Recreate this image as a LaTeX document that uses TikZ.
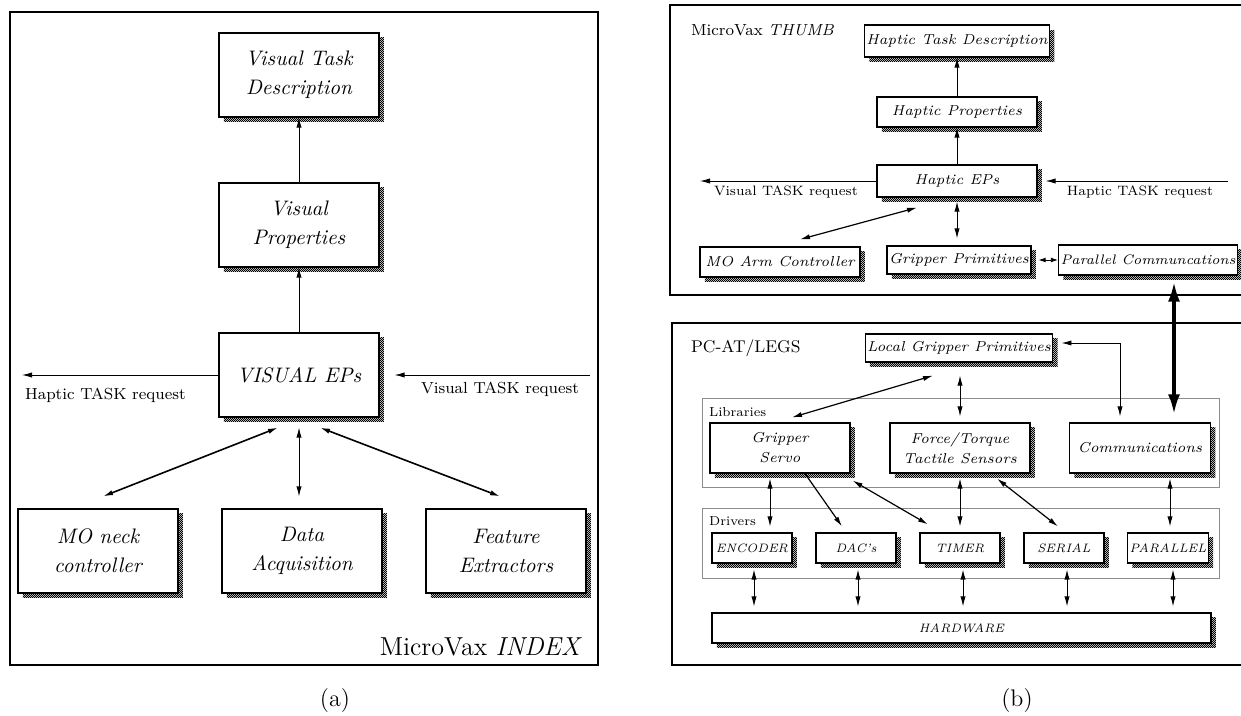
\documentclass[tikz,border=0pt]{standalone}
\usetikzlibrary{arrows.meta,calc,shadows,patterns}

\pgfdeclarepatternformonly{halftone}{\pgfpointorigin}{\pgfqpoint{1.2pt}{1.2pt}}{\pgfqpoint{1.2pt}{1.2pt}}{%
  \pgfpathrectangle{\pgfpointorigin}{\pgfqpoint{0.7pt}{0.7pt}}%
  \pgfpathrectangle{\pgfqpoint{0.6pt}{0.6pt}}{\pgfqpoint{0.6pt}{0.6pt}}%
  \pgfusepath{fill}}

\begin{document}
\begin{tikzpicture}[x=0.5pt, y=-0.5pt, >={Latex[length=5pt,width=2.6pt]},
  lbox/.style={draw, fill=white, line width=0.6pt, align=center, inner sep=1pt, minimum width=80pt, minimum height=42pt, font=\fontsize{10.5}{14.5}\selectfont\itshape, drop shadow={shadow xshift=2.4pt, shadow yshift=-2.4pt, pattern=halftone, opacity=1}},
  sbox/.style={lbox, minimum height=15pt, font=\fontsize{7.2}{10}\selectfont\itshape},
  dbox/.style={sbox, minimum width=40pt, font=\fontsize{6.1}{8}\selectfont\itshape},
  frame/.style={line width=0.7pt},
  group/.style={draw=black!45, line width=0.3pt},
  req/.style={font=\fontsize{8}{10}\selectfont},
  sreq/.style={font=\fontsize{6.8}{8}\selectfont},
  big arrow/.style={<->, line width=1.8pt, >={Latex[length=10pt,width=6pt]}}]
  \useasboundingbox (0,0) rectangle (1241,716);

  % (a)
  \draw [frame] (10,12) rectangle (598,665);
  \node (v task) [lbox] at (299,75) {Visual Task\\Description};
  \node (v prop) [lbox] at (299,225) {Visual\\Properties};
  \node (v eps) [lbox] at (299,375) {VISUAL EPs};
  \node (mo neck) [lbox] at (98,551) {MO neck\\controller};
  \node (data acq) [lbox] at (302,551) {Data\\Acquisition};
  \node (feat ext) [lbox] at (506,551) {Feature\\Extractors};
  \draw [->] (v eps) -- (v prop);
  \draw [->] (v prop) -- (v task);
  \draw [<->, thick] ($(v eps.south)+(-21,10)$) -- ($(mo neck.north)+(5,-12)$);
  \draw [<->] ($(v eps.south)+(0,10)$) -- ($(data acq.north)+(-3,-12)$);
  \draw [<->, thick] ($(v eps.south)+(21,10)$) -- ($(feat ext.north)+(-6,-12)$);
  \coordinate (h out) at (22,375);
  \draw [->] (v eps.west) -- (h out);
  \node (h req) [req, anchor=north west] at (18,381) {Haptic TASK request};
  \coordinate (v in) at (590,375);
  \draw [->] (v in) -- ($(v eps.east)+(15,0)$);
  \node (v req) [req] at (500,389) {Visual TASK request};
  \node (index) [anchor=base east, font=\fontsize{13}{15}\selectfont] at (589,655) {MicroVax \textit{INDEX}};
  \node (cap a) [font=\fontsize{12}{14}\selectfont] at (335,701) {(a)};

  % (b), upper part
  \draw [frame] (1241,5) -- (670,5) -- (670,295) -- (1241,295);
  \node (thumb) [anchor=west, font=\fontsize{8}{10}\selectfont] at (684,30) {MicroVax \textit{THUMB}};
  \node (h task) [sbox, minimum width=79pt, minimum height=16pt] at (957,41) {Haptic Task Description};
  \node (h prop) [sbox, minimum width=80pt] at (957,112) {Haptic Properties};
  \node (h eps) [sbox, minimum width=80pt, minimum height=16pt] at (957,181) {Haptic EPs};
  \node (mo arm) [sbox, minimum width=80pt] at (780,262) {MO Arm Controller};
  \node (grip prim) [sbox, minimum width=66pt, minimum height=14pt] at (959,260) {Gripper Primitives};
  \node (par comm) [sbox, minimum width=80pt, font=\fontsize{6.9}{10}\selectfont\itshape] at (1148,260) {Parallel Communcations};
  \draw [->] (h eps) -- (h prop);
  \draw [->] (h prop) -- (h task);
  \coordinate (v out) at (700,181);
  \draw [->] (h eps.west) -- (v out);
  \node (v req2) [sreq] at (786,192) {Visual TASK request};
  \coordinate (h in) at (1228,181);
  \draw [->] (h in) -- ($(h eps.east)+(8,0)$);
  \node (h req2) [sreq] at (1140,192) {Haptic TASK request};
  \draw [<->] ($(h eps.south)+(0,4)$) -- ($(grip prim.north)+(-2,-7)$);
  \draw [<->, semithick] ($(h eps.south)+(-40,10)$) -- ($(mo arm.north)+(20,-7)$);
  \draw [<->, >={Latex[length=3.5pt,width=2.4pt]}] ($(grip prim.east)+(7,0)$) -- (par comm.west);

  % (b), lower part
  \draw [frame] (1241,323) -- (672,323) -- (672,665) -- (1241,665);
  \node (legs) [anchor=west, font=\fontsize{8.5}{10}\selectfont] at (684,348) {PC-AT/LEGS};
  \draw [group] (702,398) rectangle (1219,487);
  \node (libs) [anchor=north west, font=\fontsize{6.5}{8}\selectfont] at (702,400) {Libraries};
  \draw [group] (702,508) rectangle (1219,578);
  \node (drv) [anchor=north west, font=\fontsize{6.5}{8}\selectfont] at (702,510) {Drivers};
  \node (loc grip) [sbox, minimum width=81pt, minimum height=14pt] at (959,348) {Local Gripper Primitives};
  \node (grip servo) [sbox, minimum width=70pt, minimum height=25pt] at (780,448) {Gripper\\Servo};
  \node (ft sens) [sbox, minimum width=70pt, minimum height=25pt] at (960,448) {Force/Torque\\Tactile Sensors};
  \node (comm) [sbox, minimum width=70.5pt, minimum height=25pt] at (1140,448) {Communications};
  \foreach \n/\t/\x in {enc/ENCODER/752, dac/DAC's/856, timer/TIMER/960, serial/SERIAL/1064, par/PARALLEL/1168}
    \node (\n) [dbox] at (\x,548) {\t};
  \node (hw) [dbox, minimum width=249.5pt] at (961.5,628) {HARDWARE};
  \draw [big arrow] ($(par comm.south)+(26,6)$) -- ($(comm.north)+(34,-8)$);
  \draw [<->, semithick] ($(loc grip.south)+(-26,13)$) -- ($(grip servo.north)+(12,-5)$);
  \draw [<->] ($(loc grip.south)+(1,13)$) -- ($(ft sens.north)+(0,-6)$);
  \draw [<->] ($(loc grip.east)+(8,-5)$) -| ($(comm.north)+(-20,-6)$);
  \draw [<->] ($(grip servo.south)+(-10,5)$) -- ($(enc.north)+(18,-6)$);
  \draw [->, semithick] ($(grip servo.south)+(25,0)$) -- ($(dac.north)+(-14,-6)$);
  \draw [<->, semithick] ($(grip servo.south east)+(2,7)$) -- ($(timer.north)+(-32,-8)$);
  \draw [<->] ($(ft sens.south)+(0,5)$) -- ($(timer.north)+(0,-6)$);
  \draw [<->, semithick] ($(ft sens.south)+(37,5)$) -- ($(serial.north)+(-6,-6)$);
  \draw [<->] ($(comm.south)+(30,5)$) -- ($(par.north)+(2,-6)$);
  \foreach \n/\dx in {enc/2, dac/2, timer/3, serial/3, par/5}
    \draw [<->] ($(\n.south)+(\dx,6)$) coordinate (d pt) -- ($(hw.north -| d pt)+(0,-6)$);
  \node (cap b) [font=\fontsize{12}{14}\selectfont] at (1017,701) {(b)};
\end{tikzpicture}
\end{document}
